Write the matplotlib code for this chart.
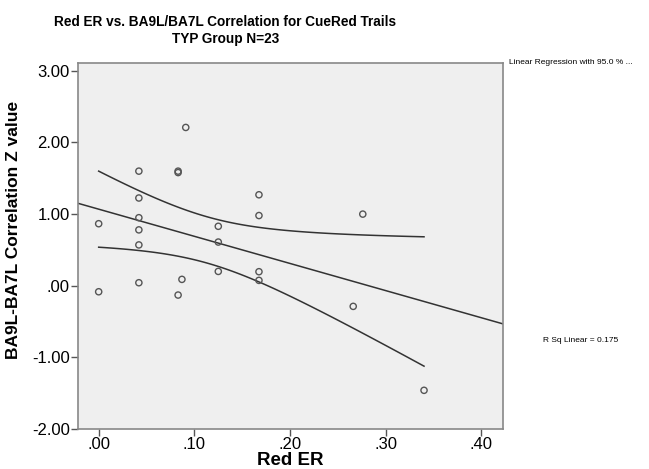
import numpy as np
import matplotlib.pyplot as plt
from matplotlib.ticker import FuncFormatter

# data
red_er = [0.0, 0.0,
          0.042, 0.042, 0.042, 0.042, 0.042, 0.042,
          0.083, 0.083, 0.083, 0.087, 0.091,
          0.125, 0.125, 0.125,
          0.1675, 0.1675, 0.1675, 0.1675,
          0.266, 0.276, 0.34]
zval = [0.866, -0.084,
        1.60, 1.225, 0.95, 0.78, 0.57, 0.042,
        1.60, 1.58, -0.13, 0.089, 2.21,
        0.83, 0.61, 0.20,
        1.27, 0.98, 0.196, 0.075,
        -0.288, 1.0, -1.46]
r_sq = 0.175

x = np.array(red_er)
y = np.array(zval)
n = len(x)

# linear fit and 95% confidence band of the mean
b, a = np.polyfit(x, y, 1)
resid = y - (a + b * x)
s = np.sqrt(np.sum(resid ** 2) / (n - 2))
sxx = np.sum((x - x.mean()) ** 2)
t95 = 2.080  # t(0.975, 21)

xlim = (-0.0216, 0.4225)
xf = np.linspace(xlim[0], xlim[1], 100)
xb = np.linspace(x.min(), x.max(), 100)
yb = a + b * xb
half = t95 * s * np.sqrt(1.0 / n + (xb - x.mean()) ** 2 / sxx)

plt.rcParams['font.family'] = ['Liberation Sans', 'DejaVu Sans']

fig = plt.figure(figsize=(6.49, 4.69), dpi=100)
ax = fig.add_axes([0.1202, 0.0853, 0.6548, 0.7804])
ax.set_facecolor('#efefef')

ax.plot(xf, a + b * xf, color='#333333', lw=1.1)
ax.plot(xb, yb + half, color='#333333', lw=1.1)
ax.plot(xb, yb - half, color='#333333', lw=1.1)
ax.scatter(x, y, s=20, facecolors='none', edgecolors='#555555', linewidths=1.0, zorder=3)

ax.set_xlim(*xlim)
ax.set_ylim(-2.0, 3.11)
ax.set_xticks([0.0, 0.1, 0.2, 0.3, 0.4])
ax.set_yticks([-2, -1, 0, 1, 2, 3])
ax.xaxis.set_major_formatter(FuncFormatter(lambda v, p: ('%.2f' % v).replace('0.', '.', 1)))
ax.yaxis.set_major_formatter(FuncFormatter(lambda v, p: '.00' if abs(v) < 1e-9 else '%.2f' % v))
ax.tick_params(labelsize=12, length=5, color='#555555', width=1, pad=1)
for sp in ax.spines.values():
    sp.set_color('#888888')
    sp.set_linewidth(1.2)

ax.set_xlabel('Red ER', fontsize=13.5, fontweight='bold', labelpad=0)
ax.set_ylabel('BA9L-BA7L Correlation Z value', fontsize=12.5, fontweight='bold')
ax.yaxis.set_label_coords(-0.135, 0.544)

fig.text(0.347, 1 - 15 / 469, 'Red ER vs. BA9L/BA7L Correlation for CueRed Trails\nTYP Group N=23',
         fontsize=9.8, fontweight='bold', ha='center', va='top', linespacing=1.3)

fig.text(0.784, 0.866, 'Linear Regression with 95.0 % ...', fontsize=6, va='center')
fig.text(0.837, 0.275, 'R Sq Linear = %.3f' % r_sq, fontsize=6, va='center')

fig.savefig('out.png', dpi=100)
